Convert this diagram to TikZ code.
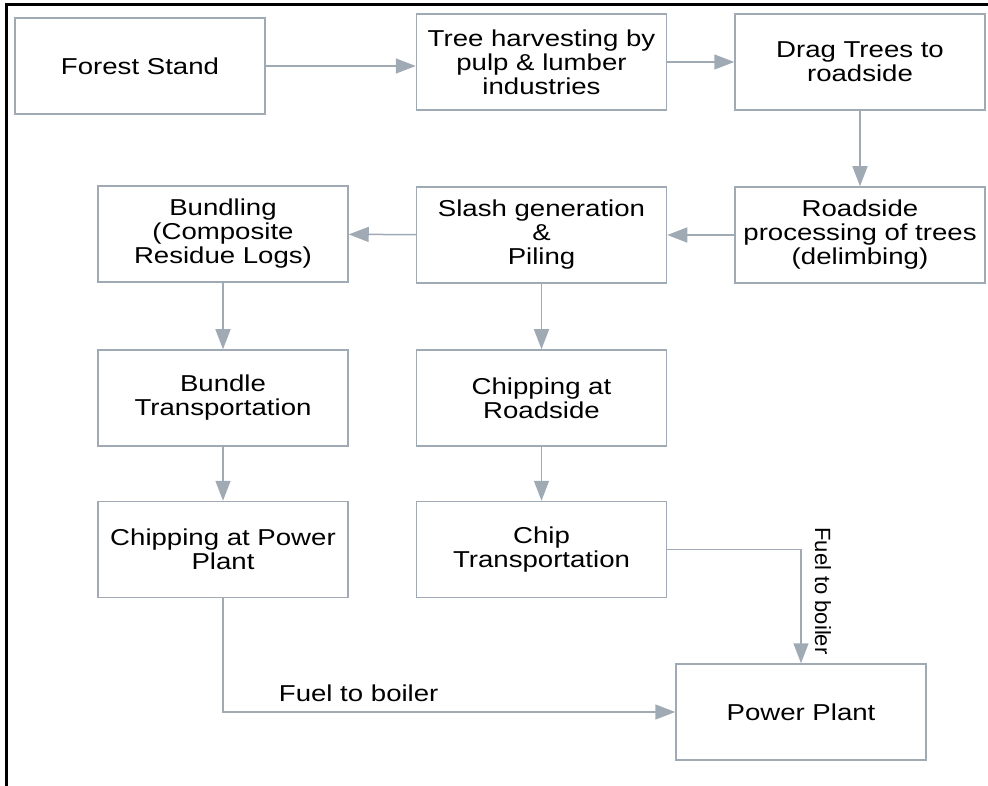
\documentclass[tikz,border=0pt]{standalone}
\usepackage{fontspec}
\setmainfont{Liberation Sans}[FakeStretch=1.2]
\newfontfamily\uprightlbl{Liberation Sans}
\usetikzlibrary{arrows.meta}
\definecolor{boxgray}{RGB}{160,170,180}

\begin{document}
\begin{tikzpicture}[x=1pt,y=-1pt,
    box/.style={draw=boxgray,line width=1.5pt,minimum width=250pt,minimum height=96pt,align=center,font=\fontsize{23}{24}\selectfont},
    flow/.style={draw=boxgray,line width=1.5pt,-{Triangle[length=20pt,width=15pt]}},
    lbl/.style={font=\fontsize{23}{24}\selectfont}]
            \useasboundingbox (0,0) rectangle (988,786);
            \draw[line width=3pt] (6,786) -- (6,5) -- (988,5);
            \node[box] (stand) at (140,66) {Forest Stand};
            \node[box] (harvest) at (541.5,62) {Tree harvesting by\\pulp \& lumber\\industries};
            \node[box] (drag) at (860,62) {Drag Trees to\\roadside};
            \node[box] (roadside) at (860,235) {Roadside\\processing of trees\\(delimbing)};
            \node[box] (slash) at (541.5,235) {Slash generation\\\&\\Piling};
            \node[box] (bundle) at (223,234) {Bundling\\(Composite\\Residue Logs)};
            \node[box] (bundletr) at (223,398) {Bundle\\Transportation};
            \node[box] (chiproad) at (541.5,398) {Chipping at\\Roadside};
            \node[box] (chippp) at (223,549.5) {Chipping at Power\\Plant};
            \node[box] (chiptr) at (541.5,549.5) {Chip\\Transportation};
            \node[box] (plant) at (801,712) {Power Plant};
            \draw[flow] (stand.east) -- (stand.east -| harvest.west);
            \draw[flow] (harvest) -- (drag);
            \draw[flow] (drag) -- (roadside);
            \draw[flow] (roadside) -- (slash);
            \draw[flow] (slash) -- (bundle);
            \draw[flow] (bundle) -- (bundletr);
            \draw[flow] (slash) -- (chiproad);
            \draw[flow] (bundletr) -- (chippp);
            \draw[flow] (chiproad) -- (chiptr);
            \draw[flow] (chippp) |- node[lbl,pos=0.65,above,yshift=6pt]{Fuel to boiler} (plant);
            \draw[flow] (chiptr) -| (plant);
            \node[rotate=-90,font=\uprightlbl\fontsize{22}{24}\selectfont] (fuelb) at (823,591) {Fuel to boiler};
        \end{tikzpicture}
\end{document}
